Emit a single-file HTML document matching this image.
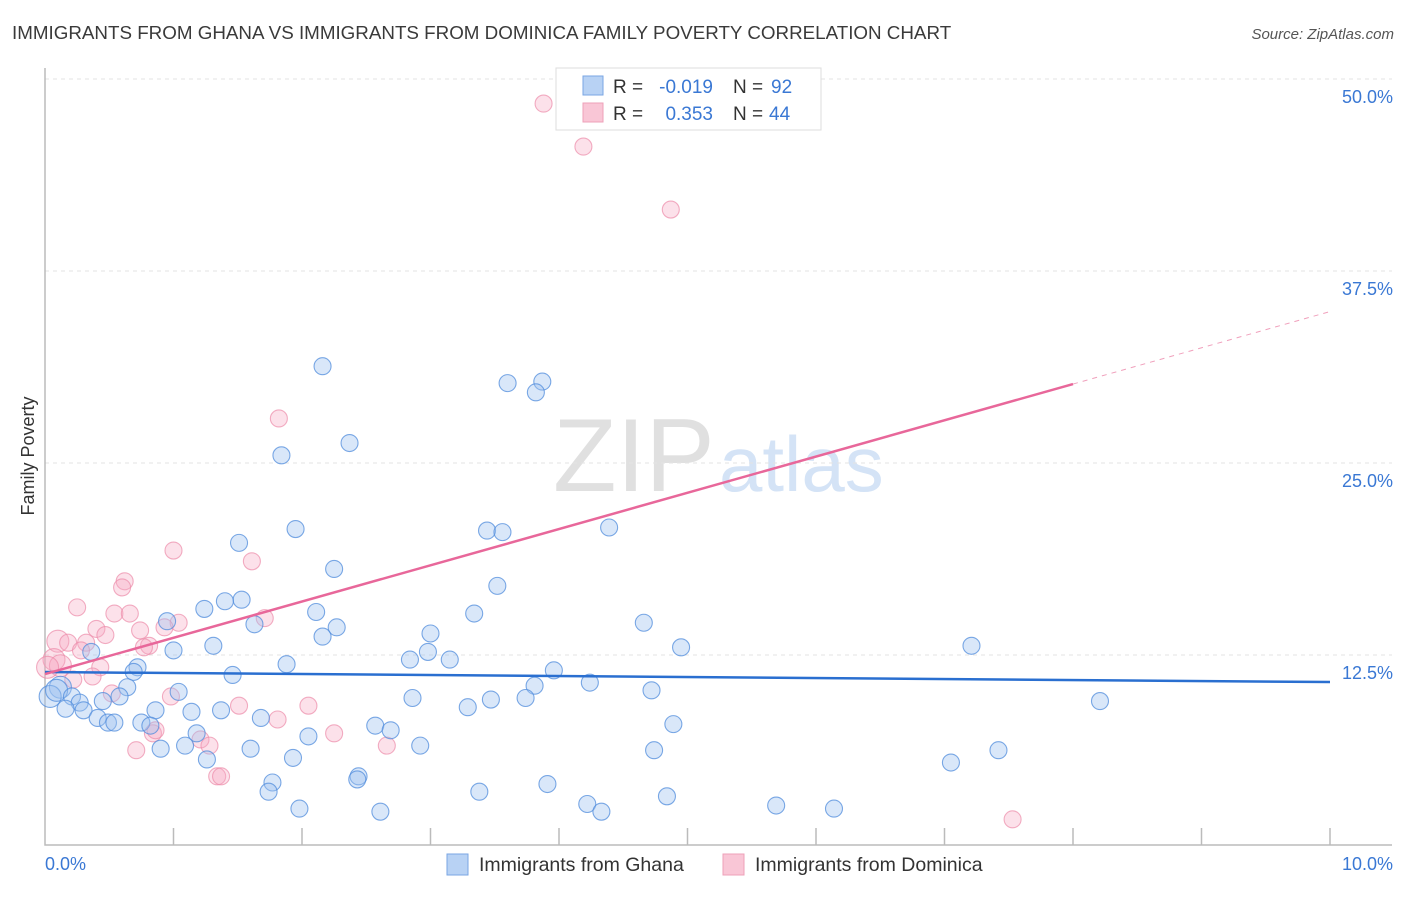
<!DOCTYPE html>
<html><head><meta charset="utf-8">
<style>
body{margin:0;background:#fff;font-family:"Liberation Sans",sans-serif;}
svg text{font-family:"Liberation Sans",sans-serif;}
</style></head>
<body>
<svg id="chart" width="1406" height="892" xmlns="http://www.w3.org/2000/svg">
<text x="12" y="39" font-size="18.8" fill="#3a3a3a">IMMIGRANTS FROM GHANA VS IMMIGRANTS FROM DOMINICA FAMILY POVERTY CORRELATION CHART</text>
<text x="1394" y="39" font-size="15" fill="#555" text-anchor="end" font-style="italic">Source: ZipAtlas.com</text>
<text transform="translate(34,456) rotate(-90)" font-size="18" fill="#333" text-anchor="middle">Family Poverty</text>
<g>
<text x="553" y="491" font-size="104" fill="#e0e0e0" font-family="Liberation Serif, serif">ZIP</text>
<text x="719" y="491" font-size="78" fill="#d4e3f6">atlas</text>
</g>
<g id="grid"></g>
<g id="axes"></g>
<g id="pts"></g>
<g id="lines"></g>
<g>
<rect x="556" y="68" width="265" height="62" fill="#fff" stroke="#ddd"/>
<rect x="583" y="76" width="20" height="19" fill="#b8d2f4" stroke="#7aa6e3"/>
<rect x="583" y="103" width="20" height="19" fill="#f9c6d6" stroke="#eea0b8"/>
<text x="613" y="93" font-size="19" fill="#333">R =</text>
<text x="713" y="93" font-size="19" fill="#3a78d4" text-anchor="end">-0.019</text>
<text x="733" y="93" font-size="19" fill="#333">N =</text>
<text x="771" y="93" font-size="19" fill="#3a78d4">92</text>
<text x="613" y="120" font-size="19" fill="#333">R =</text>
<text x="713" y="120" font-size="19" fill="#3a78d4" text-anchor="end">0.353</text>
<text x="733" y="120" font-size="19" fill="#333">N =</text>
<text x="769" y="120" font-size="19" fill="#3a78d4">44</text>
</g>
<g>
<rect x="447" y="854" width="21" height="21" fill="#b8d2f4" stroke="#7aa6e3"/>
<text x="479" y="871" font-size="19.5" fill="#333">Immigrants from Ghana</text>
<rect x="723" y="854" width="21" height="21" fill="#f9c6d6" stroke="#eea0b8"/>
<text x="755" y="871" font-size="19.5" fill="#333">Immigrants from Dominica</text>
</g>
</svg>
<script>
const ghanaX=[2.16,3.60,3.87,3.82,2.37,1.84,1.95,3.44,3.56,4.39,1.51,2.25,3.52,1.53,1.40,1.24,2.11,3.34,0.95,1.63,2.27,4.66,3.00,2.16,1.31,1.00,0.36,4.95,7.21,2.84,2.98,3.15,1.88,0.72,0.69,1.46,3.96,0.64,3.81,4.24,1.04,4.72,8.21,2.86,3.47,3.74,0.58,0.12,0.04,0.09,0.21,0.27,0.45,0.16,0.30,0.86,1.14,3.29,1.37,0.41,1.68,0.49,0.54,0.75,0.82,2.57,2.69,4.89,1.18,2.05,1.09,0.90,1.60,2.92,4.74,7.42,1.93,1.26,7.05,2.44,2.43,1.77,1.74,3.91,3.38,4.84,4.22,5.69,6.14,1.98,2.61,4.33];
const ghanaY=[31.3,30.2,30.3,29.6,26.3,25.5,20.7,20.6,20.5,20.8,19.8,18.1,17.0,16.1,16.0,15.5,15.3,15.2,14.7,14.5,14.3,14.6,13.9,13.7,13.1,12.8,12.7,13.0,13.1,12.2,12.7,12.2,11.9,11.7,11.4,11.2,11.5,10.4,10.5,10.7,10.1,10.2,9.5,9.7,9.6,9.7,9.8,10.4,9.8,10.2,9.8,9.4,9.5,9.0,8.9,8.9,8.8,9.1,8.9,8.4,8.4,8.1,8.1,8.1,7.9,7.9,7.6,8.0,7.4,7.2,6.6,6.4,6.4,6.6,6.3,6.3,5.8,5.7,5.5,4.6,4.4,4.2,3.6,4.1,3.6,3.3,2.8,2.7,2.5,2.5,2.3,2.3];
const domX=[3.88,4.19,4.87,1.82,1.00,1.61,0.62,0.60,0.25,0.54,0.66,1.04,0.93,0.40,0.74,0.47,0.10,0.18,0.32,0.81,0.77,0.07,0.28,0.12,0.02,0.43,0.37,0.22,1.71,0.98,0.52,1.51,2.05,0.84,0.86,1.21,1.28,2.25,2.66,0.71,1.81,1.34,1.37,7.53];
const domY=[48.4,45.6,41.5,27.9,19.3,18.6,17.3,16.9,15.6,15.2,15.2,14.6,14.3,14.2,14.1,13.8,13.4,13.3,13.3,13.1,13.0,12.2,12.8,11.8,11.7,11.7,11.1,10.9,14.9,9.8,10.0,9.2,9.2,7.4,7.6,7.0,6.6,7.4,6.6,6.3,8.3,4.6,4.6,1.8];
const ghanaTrend=[11.39,10.74];
const domTrend=[11.26,34.86];
const domSolidEnd=8.0;
const yTicks=[12.5,25.0,37.5,50.0];
const xTicks=[0,1,2,3,4,5,6,7,8,9,10];

const NS="http://www.w3.org/2000/svg";
const X=v=>45+v*128.5, Y=v=>847-v*15.36;
function mk(parent,tag,attrs){const e=document.createElementNS(NS,tag);for(const k in attrs)e.setAttribute(k,attrs[k]);document.getElementById(parent).appendChild(e);return e;}
yTicks.forEach(t=>{
 const l=mk('grid','line',{x1:45,x2:1392,y1:Y(t),y2:Y(t),stroke:'#e3e3e3','stroke-dasharray':'4,4'});
 
 
 const tx=mk('grid','text',{x:1393,y:Y(t)+24,'font-size':18,fill:'#3a78d4','text-anchor':'end'});
 tx.textContent=t.toFixed(1)+'%';
 
 
});
const ax=mk('axes','path',{d:`M45 68 V845 H1392`,fill:'none',stroke:'#bbb','stroke-width':1.5});


xTicks.forEach(t=>{if(t===0)return;
 const l=mk('axes','line',{x1:X(t),x2:X(t),y1:828,y2:845,stroke:'#bbb','stroke-width':1.5});
 
 
});
[[0,'0.0%','start',45],[10,'10.0%','end',1393]].forEach(a=>{
 const tx=mk('axes','text',{x:a[3],y:870,'font-size':18,fill:'#3a78d4','text-anchor':a[2]});
 tx.textContent=a[1];
 
 
});
function pts(xs,ys,fill,stroke,name){
 xs.forEach((x,i)=>{
  const c=mk('pts','circle',{cx:X(x),cy:Y(ys[i]),r:x<0.15?11:8.5,fill:fill,stroke:stroke,'stroke-width':1.1});
  
  
 });
}
pts(domX,domY,'rgba(246,170,196,0.35)','rgba(236,140,170,0.7)','dominica-point');
pts(ghanaX,ghanaY,'rgba(160,195,240,0.4)','rgba(80,140,220,0.75)','ghana-point');
const gl=mk('lines','line',{x1:X(0),y1:Y(ghanaTrend[0]),x2:X(10),y2:Y(ghanaTrend[1]),stroke:'#2a6fd0','stroke-width':2.5});


const dy=x=>domTrend[0]+(domTrend[1]-domTrend[0])*x/10;
const dl=mk('lines','line',{x1:X(0),y1:Y(dy(0)),x2:X(domSolidEnd),y2:Y(dy(domSolidEnd)),stroke:'#e8679a','stroke-width':2.5});


const dd=mk('lines','line',{x1:X(domSolidEnd),y1:Y(dy(domSolidEnd)),x2:X(10),y2:Y(dy(10)),stroke:'#f0a0bc','stroke-width':1,'stroke-dasharray':'5,5'});


</script>
</body></html>
